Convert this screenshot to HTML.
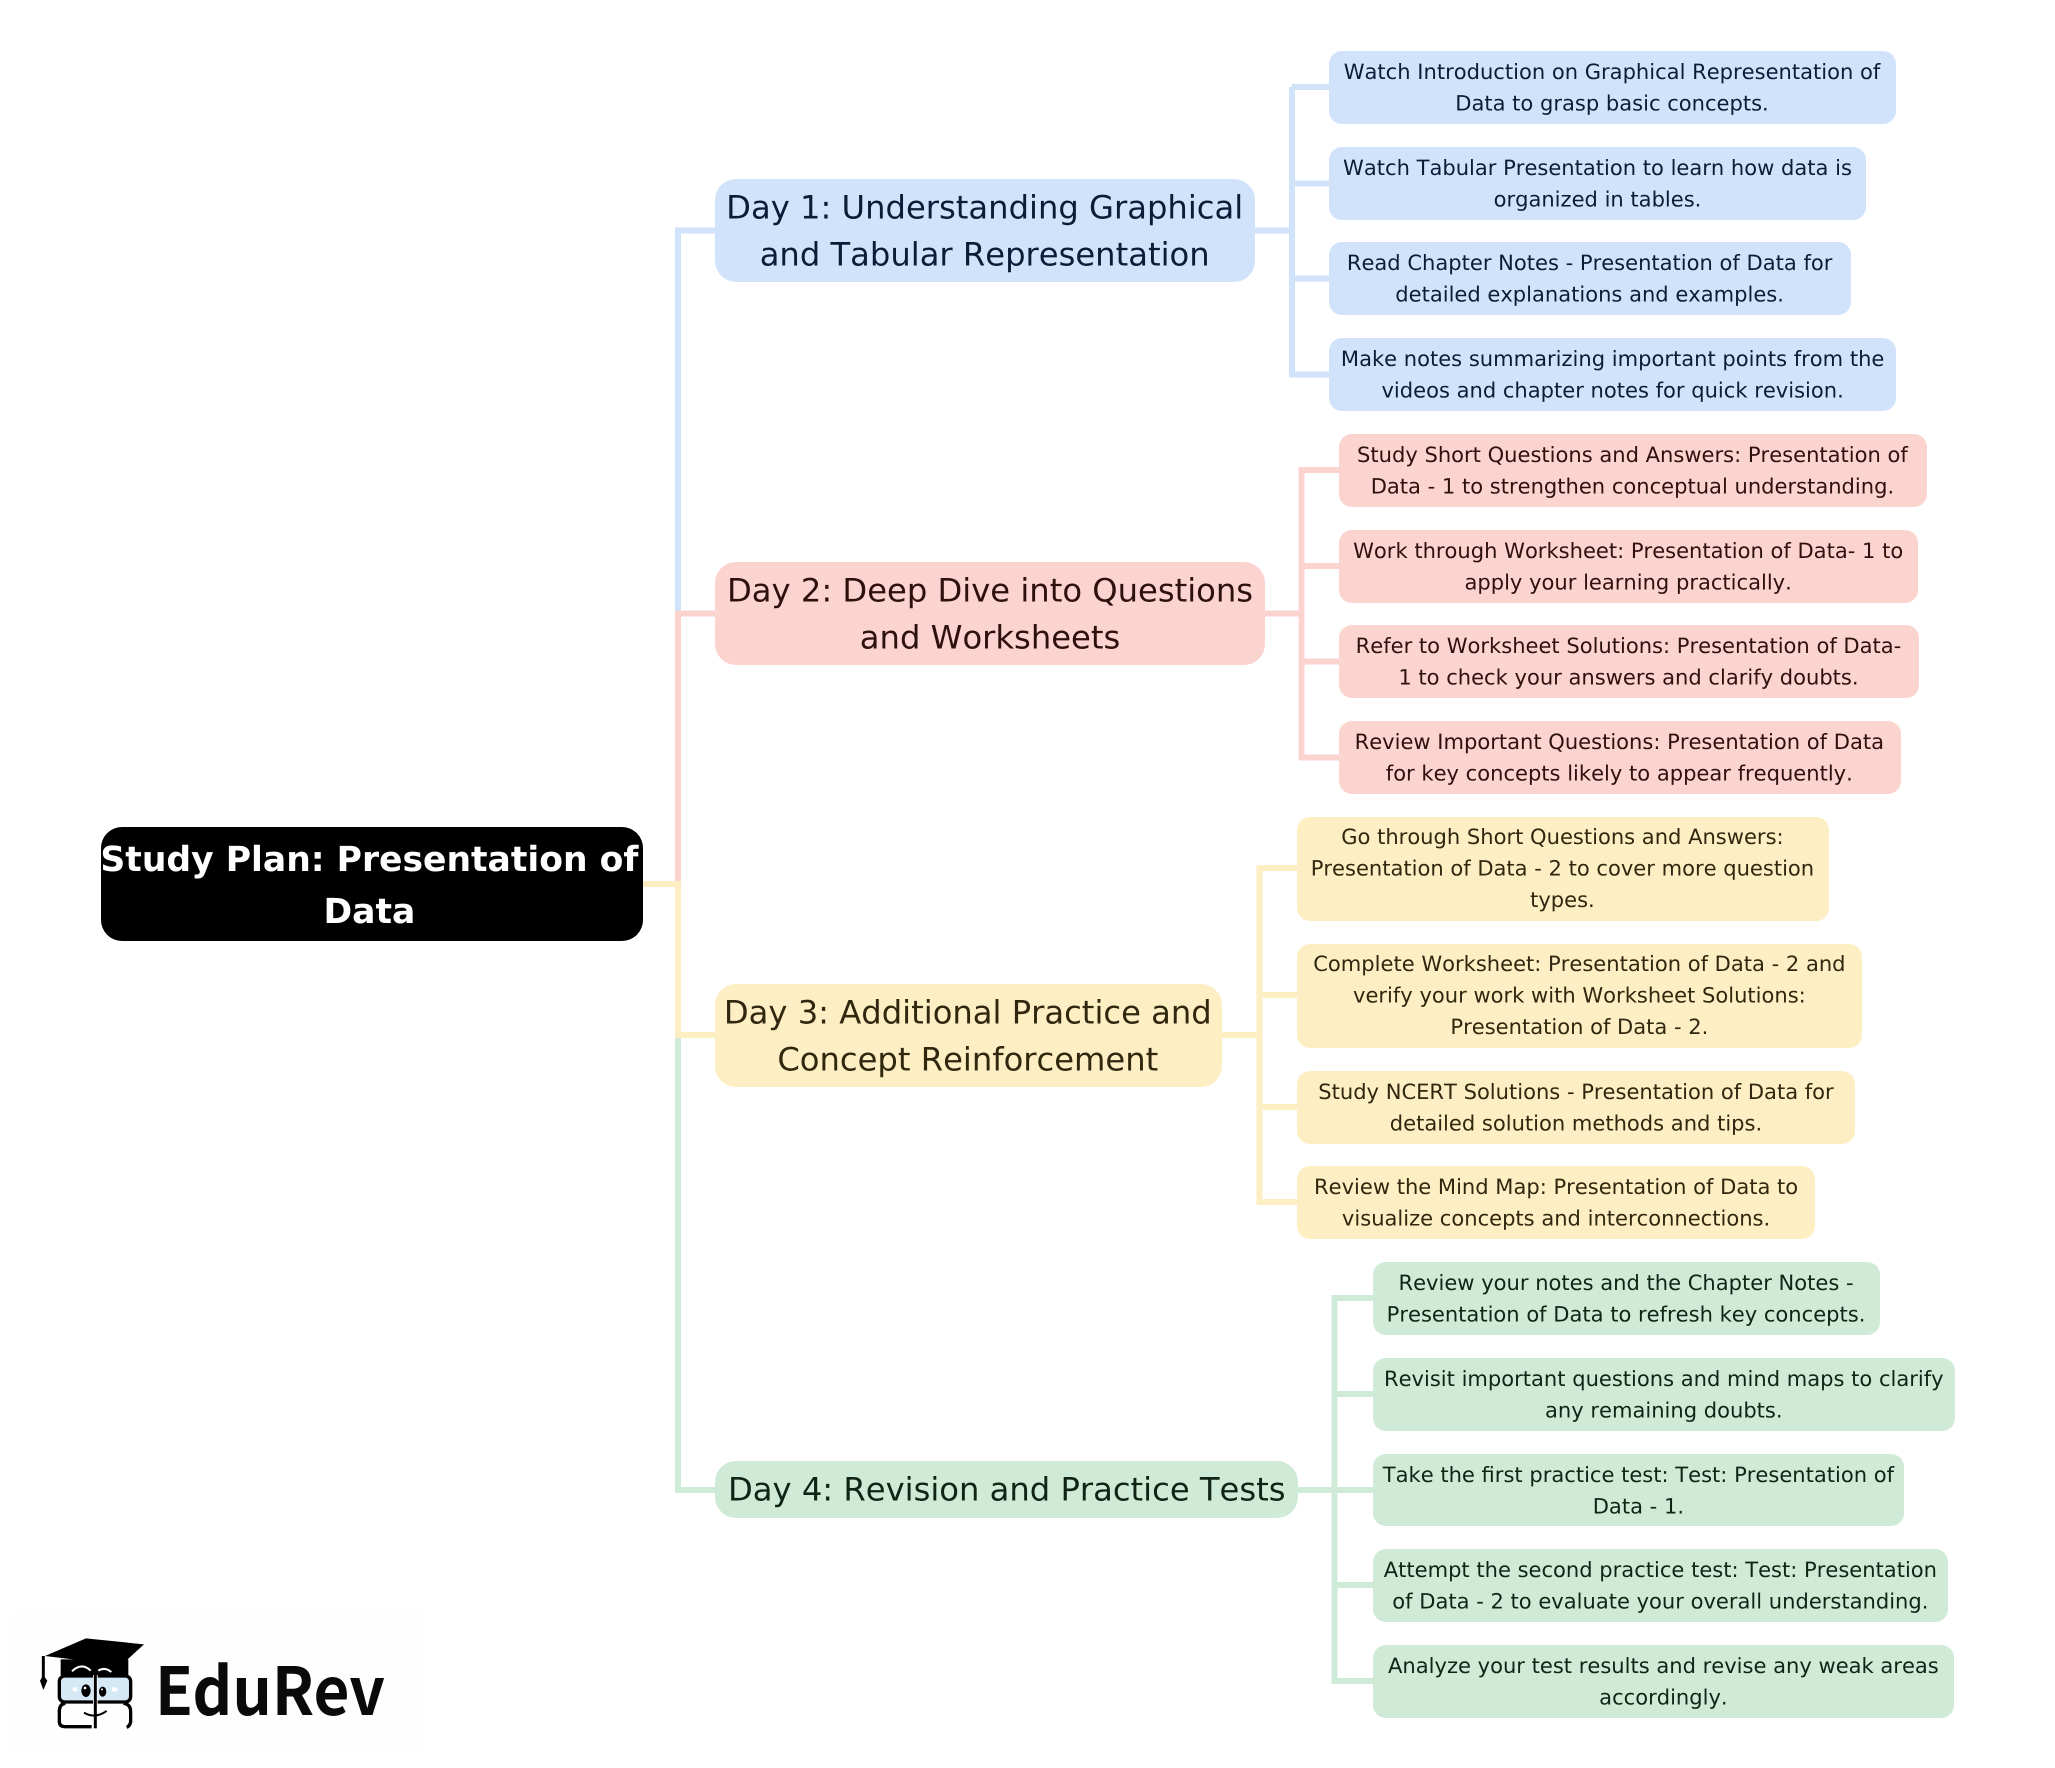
<!DOCTYPE html>
<html><head><meta charset="utf-8"><title>Study Plan</title>
<style>
html,body{margin:0;padding:0;background:#fff}
#p{position:relative;width:2055px;height:1768px;overflow:hidden;background:#fff;font-family:"DejaVu Sans",sans-serif}
svg{position:absolute;left:0;top:0}
#w{position:absolute;left:-.6px;top:0;width:2055px;height:1768px;text-rendering:geometricPrecision;font-kerning:none}
.n{position:absolute;display:flex;align-items:center;justify-content:center;text-align:center;white-space:nowrap;box-sizing:border-box}
.n span{display:block;flex:none;transform:scale(1.315);transform-origin:50% 50%}
.l{font-size:16px;line-height:24px;border-radius:13px;padding-top:1.6px}
.d{font-size:24px;line-height:35px;border-radius:21px;padding-top:3px}
.d span{transform:scale(1.3417)}
.rt span{transform:scale(1.329)}
.b{background:#d1e3fb;color:#0c1c38}
.r{background:#fbd3cf;color:#2e100d}
.y{background:#feeec3;color:#30270f}
.g{background:#cfead7;color:#102416}
</style></head><body><div id="p">
<svg width="2055" height="1768" viewBox="0 0 2055 1768" fill="none" stroke-width="6">
<rect x="12" y="1612" width="410" height="140" fill="#fefefe" stroke="none"/>
<g stroke="#d1e3fb"><path d="M642 884H678V230.5H716"/><path d="M1254 230.5H1292M1292 87V374.5M1292 87H1330M1292 183.5H1330M1292 278.5H1330M1289 374.5H1330"/></g>
<g stroke="#fbd3cf"><path d="M642 884H678V613.5H716"/><path d="M1264 613.5H1301.5M1301.5 470V757.5M1298.5 470H1340M1301.5 566H1340M1301.5 661.5H1340M1298.5 757.5H1340"/></g>
<g stroke="#cfead7"><path d="M642 884H678V1490H716"/><path d="M1297 1490H1334.5M1334.5 1298V1681M1331.5 1298H1374M1334.5 1394H1374M1334.5 1490H1374M1334.5 1585H1374M1331.5 1681H1374"/></g>
<g stroke="#feeec3"><path d="M642 884H678V1035H716"/><path d="M1221 1035H1259.5M1259.5 868V1202M1256.5 868H1298M1259.5 995H1298M1259.5 1107H1298M1256.5 1202H1298"/></g>
<g transform="translate(0 1600) scale(.3333)" stroke="none">
<path d="M130 168V235" stroke="#000" stroke-width="9"/>
<path d="M130 226L120 242L130 270L142 242Z" fill="#000"/>
<path d="M182 178H385V225H182Z" fill="#000"/>
<path d="M135 168L258 115L432 133L350 208L250 182Z" fill="#000"/>
<path d="M216 214Q245 186 272 212M295 212Q315 200 334 216" stroke="#fff" stroke-width="6" fill="none"/>
<rect x="178" y="228" width="214" height="78" rx="16" fill="#d4e8f6" stroke="#000" stroke-width="10"/>
<path d="M196 310Q178 312 178 335V365Q178 380 195 380H275M370 310Q392 312 392 335V365Q390 378 380 382" stroke="#000" stroke-width="10" fill="none"/>
<path d="M286 225V385" stroke="#fff" stroke-width="14" fill="none"/>
<path d="M286 225V385" stroke="#000" stroke-width="9" fill="none"/>
<ellipse cx="258" cy="272" rx="14" ry="19" fill="#000"/><ellipse cx="308" cy="275" rx="11" ry="15" fill="#000"/>
<circle cx="255" cy="264" r="4" fill="#fff"/><circle cx="306" cy="268" r="3" fill="#fff"/>
<path d="M252 338Q285 358 320 333" stroke="#000" stroke-width="6" fill="none"/>
<path d="M218 262h14v12h-14zM336 262h16v12h-16z" fill="#fff"/>
</g>
<text x="155" y="1715" font-family="'Noto Sans CJK JP','Liberation Sans',sans-serif" font-weight="700" font-size="66" fill="#0a0a0a" stroke="none" textLength="230" lengthAdjust="spacingAndGlyphs">EduRev</text>
</svg>
<div id="w">
<div class="n rt" style="left:101.6px;top:827px;width:541.5px;height:113.5px;background:#000;color:#fff;border-radius:21px;font-size:26px;line-height:38.5px;font-weight:700;padding-top:5px;padding-right:4px"><span>Study Plan: Presentation of<br>Data</span></div>

<div class="n d b" style="left:715.6px;top:179px;width:539.6px;height:103px"><span>Day 1: Understanding Graphical<br>and Tabular Representation</span></div>
<div class="n d r" style="left:715.6px;top:562px;width:549.6px;height:103px"><span>Day 2: Deep Dive into Questions<br>and Worksheets</span></div>
<div class="n d y" style="left:715.6px;top:984px;width:506.6px;height:102.5px"><span>Day 3: Additional Practice and<br>Concept Reinforcement</span></div>
<div class="n d g" style="left:715.6px;top:1461px;width:582.6px;height:57px;padding-top:1px"><span>Day 4: Revision and Practice Tests</span></div>

<div class="n l b" style="left:1329.5px;top:51px;width:566.6px;height:73px"><span>Watch Introduction on Graphical Representation of<br>Data to grasp basic concepts.</span></div>
<div class="n l b" style="left:1329.5px;top:147px;width:536.6px;height:73px"><span>Watch Tabular Presentation to learn how data is<br>organized in tables.</span></div>
<div class="n l b" style="left:1329.5px;top:242px;width:521.6px;height:73px"><span>Read Chapter Notes - Presentation of Data for<br>detailed explanations and examples.</span></div>
<div class="n l b" style="left:1329.5px;top:338px;width:566.6px;height:73px"><span>Make notes summarizing important points from the<br>videos and chapter notes for quick revision.</span></div>

<div class="n l r" style="left:1339.5px;top:434px;width:587.6px;height:73px"><span>Study Short Questions and Answers: Presentation of<br>Data - 1 to strengthen conceptual understanding.</span></div>
<div class="n l r" style="left:1339.5px;top:529.5px;width:578.6px;height:73px"><span>Work through Worksheet: Presentation of Data- 1 to<br>apply your learning practically.</span></div>
<div class="n l r" style="left:1339.5px;top:625px;width:579.6px;height:73px"><span>Refer to Worksheet Solutions: Presentation of Data-<br>1 to check your answers and clarify doubts.</span></div>
<div class="n l r" style="left:1339.5px;top:721px;width:561.6px;height:73px"><span>Review Important Questions: Presentation of Data<br>for key concepts likely to appear frequently.</span></div>

<div class="n l y" style="left:1297.5px;top:816.5px;width:531.6px;height:104px"><span>Go through Short Questions and Answers:<br>Presentation of Data - 2 to cover more question<br>types.</span></div>
<div class="n l y" style="left:1297.5px;top:943.5px;width:564.6px;height:104px"><span>Complete Worksheet: Presentation of Data - 2 and<br>verify your work with Worksheet Solutions:<br>Presentation of Data - 2.</span></div>
<div class="n l y" style="left:1297.5px;top:1071px;width:557.6px;height:73px"><span>Study NCERT Solutions - Presentation of Data for<br>detailed solution methods and tips.</span></div>
<div class="n l y" style="left:1297.5px;top:1166px;width:517.6px;height:73px"><span>Review the Mind Map: Presentation of Data to<br>visualize concepts and interconnections.</span></div>

<div class="n l g" style="left:1373.5px;top:1262px;width:506.6px;height:73px"><span>Review your notes and the Chapter Notes -<br>Presentation of Data to refresh key concepts.</span></div>
<div class="n l g" style="left:1373.5px;top:1358px;width:581.6px;height:72.5px"><span>Revisit important questions and mind maps to clarify<br>any remaining doubts.</span></div>
<div class="n l g" style="left:1373.5px;top:1453.5px;width:530.6px;height:72.5px"><span>Take the first practice test: Test: Presentation of<br>Data - 1.</span></div>
<div class="n l g" style="left:1373.5px;top:1549px;width:574.6px;height:72.5px"><span>Attempt the second practice test: Test: Presentation<br>of Data - 2 to evaluate your overall understanding.</span></div>
<div class="n l g" style="left:1373.5px;top:1645px;width:580.6px;height:72.5px"><span>Analyze your test results and revise any weak areas<br>accordingly.</span></div>
</div>
</div></body></html>
